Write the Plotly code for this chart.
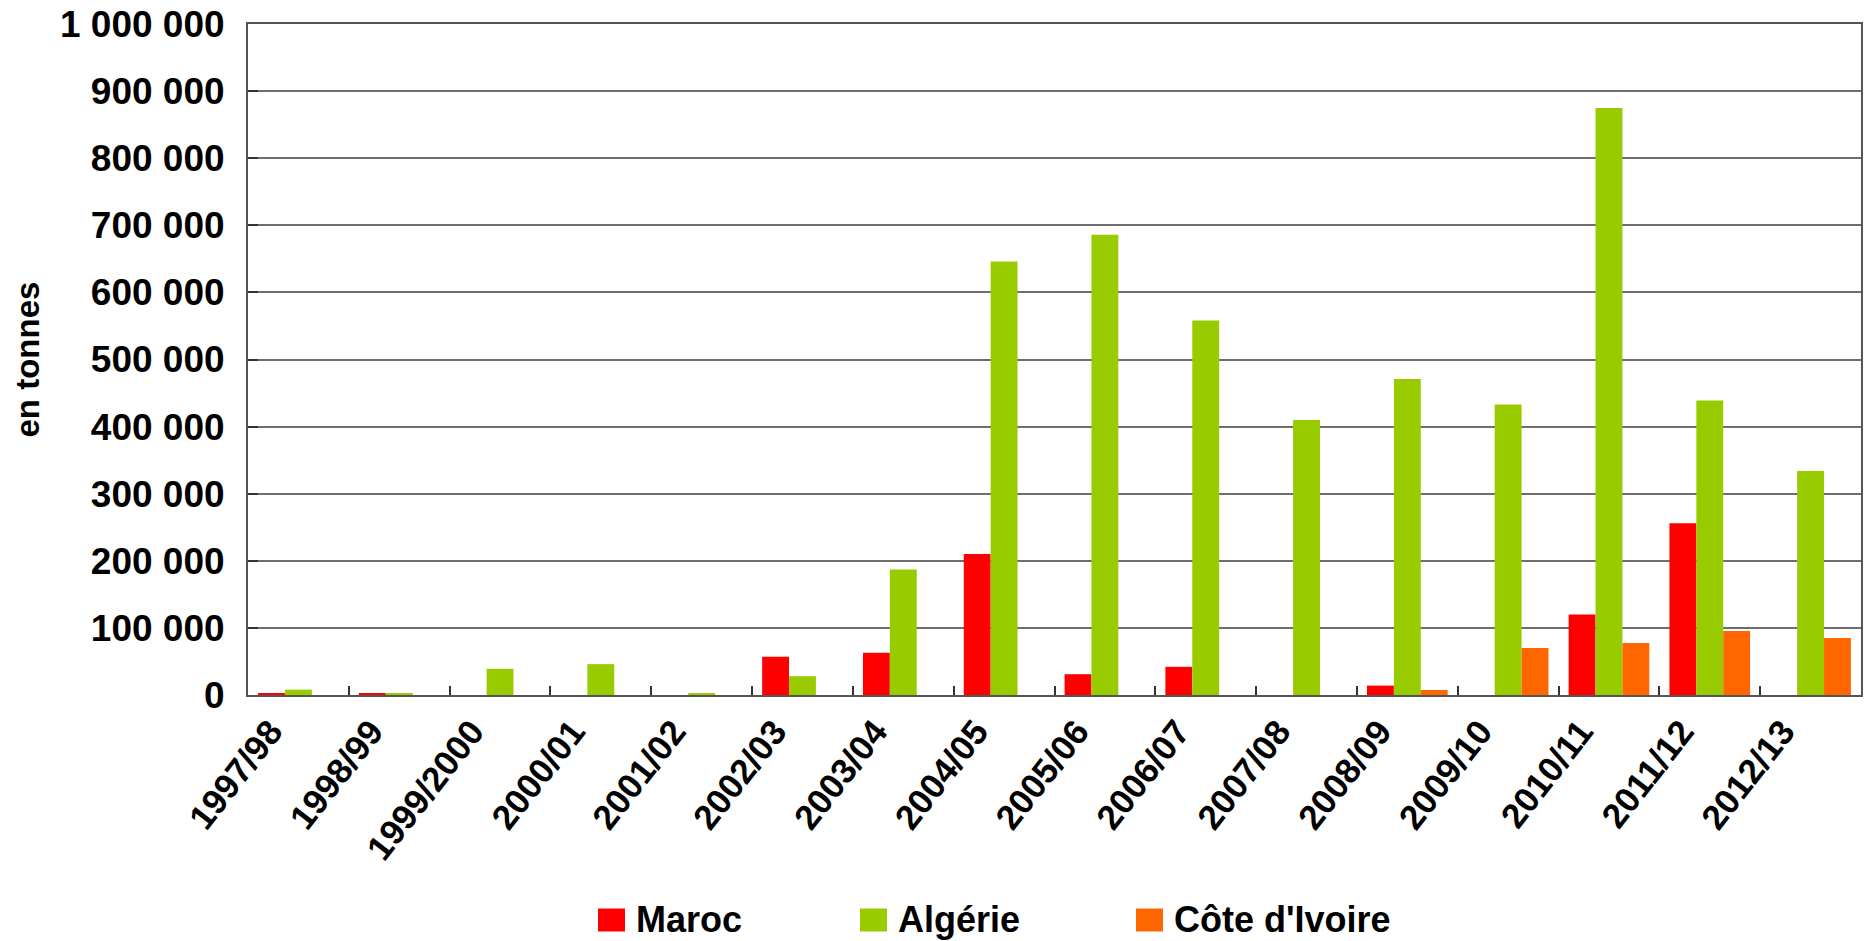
import plotly.graph_objects as go

# --- data (tonnes) ---
campagnes = ["1997/98", "1998/99", "1999/2000", "2000/01", "2001/02", "2002/03",
             "2003/04", "2004/05", "2005/06", "2006/07", "2007/08", "2008/09",
             "2009/10", "2010/11", "2011/12", "2012/13"]
maroc = [3000, 3000, 0, 0, 0, 57000, 63000, 210000, 31000, 42000, 0, 14000,
         0, 120000, 256000, 0]
algerie = [8000, 2500, 39000, 46000, 2500, 28000, 187000, 646000, 686000,
           558000, 410000, 471000, 433000, 875000, 439000, 334000]
cote_ivoire = [0, 0, 0, 0, 0, 0, 0, 0, 0, 0, 0, 7500, 70000, 77500, 95500, 85000]

series_names = ["Maroc", "Algérie", "Côte d'Ivoire"]
series_colors = ["#ff0000", "#99cc00", "#ff6600"]

FONT = "Liberation Sans, Arial, sans-serif"

fig = go.Figure()
for name, vals, col in zip(series_names, [maroc, algerie, cote_ivoire], series_colors):
    fig.add_trace(go.Bar(x=campagnes, y=vals, name=name,
                         marker=dict(color=col, line=dict(width=0)),
                         showlegend=False))

W, H = 1870, 941
L, R, T, B = 248, 9, 24, 246
pw, ph = W - L - R, H - T - B

fig.update_layout(
    template="none",
    width=W, height=H,
    margin=dict(l=L, r=R, t=T, b=B),
    paper_bgcolor="white", plot_bgcolor="white",
    barmode="group", bargap=0.2, bargroupgap=0,
    separators=", ",
    font=dict(family=FONT, color="black", size=30, weight="bold"),
    xaxis=dict(
        type="category", tickson="boundaries", automargin=False,
        ticks="inside", ticklen=9, tickcolor="#333", tickwidth=1.5,
        showgrid=False, showline=True, linecolor="#555", linewidth=2,
        mirror=True, tickangle=-52, ticklabelshift=-28,
        tickfont=dict(family=FONT, size=35, color="black", weight="bold"),
    ),
    yaxis=dict(
        range=[0, 1000000], dtick=100000, tickformat=",d", automargin=False,
        ticks="inside", ticklen=10, tickcolor="#333", tickwidth=1.5,
        ticklabelstandoff=14,
        showgrid=True, gridcolor="#6e6e6e", gridwidth=1.5,
        showline=True, linecolor="#555", linewidth=2, mirror=True,
        zeroline=False,
        tickfont=dict(family=FONT, size=37, color="black", weight="bold"),
    ),
)

# y axis title
fig.add_annotation(x=0, y=0.5, xref="paper", yref="paper", xshift=-221,
                   text="en tonnes", textangle=-90, showarrow=False,
                   xanchor="center", yanchor="middle",
                   font=dict(family=FONT, size=33, color="black", weight="bold"))

# legend drawn by hand (bigger swatches like the original)
leg_px = [598, 860, 1136]
leg_y = (H - B - 920) / ph
sw_w, sw_h = 27 / pw, 23 / ph
for px, name, col in zip(leg_px, series_names, series_colors):
    x0 = (px - L) / pw
    fig.add_shape(type="rect", xref="paper", yref="paper",
                  x0=x0, x1=x0 + sw_w, y0=leg_y - sw_h / 2, y1=leg_y + sw_h / 2,
                  fillcolor=col, line=dict(width=0))
    fig.add_annotation(x=x0 + sw_w, y=leg_y, xref="paper", yref="paper",
                       xshift=9, yshift=1, text=name, showarrow=False,
                       xanchor="left", yanchor="middle",
                       font=dict(family=FONT, size=36, color="black", weight="bold"))

# drop the browser's default body margin so the figure fills the window
fig.write_html("out.html", config={"displayModeBar": False},
               post_script="document.body.style.margin='0';")
